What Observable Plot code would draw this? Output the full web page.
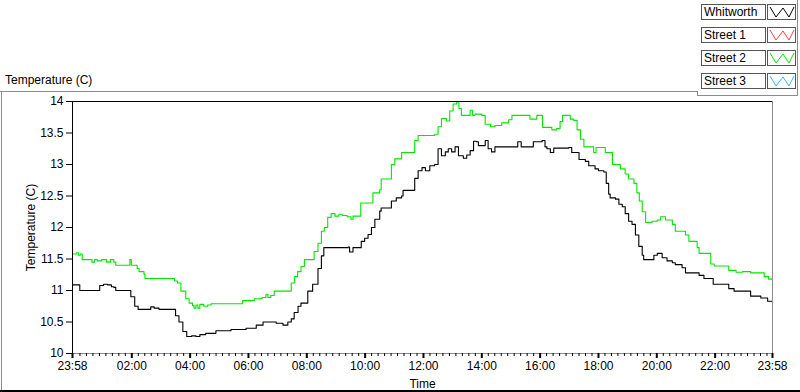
<!DOCTYPE html>
<html>
<head>
<meta charset="utf-8">
<script src="https://cdn.jsdelivr.net/npm/d3@7"></script>
<script src="https://cdn.jsdelivr.net/npm/@observablehq/plot@0.6"></script>
<style>
  html, body { margin: 0; padding: 0; background: #fff; }
  #wrap { position: relative; width: 800px; height: 392px; overflow: hidden; font-family: "Liberation Sans", Arial, sans-serif; font-size: 12px; color: #000; }
  #chart { position: absolute; left: 0; top: 0; }
  .hl { position: absolute; height: 1px; background: #8c8c8c; }
  .vl { position: absolute; width: 1px; background: #8c8c8c; }
  #title { position: absolute; left: 5px; top: 73px; font-size: 12px; }
  .lgname { position: absolute; left: 701px; width: 61px; height: 14px; border: 1px solid #555; background: #fff; font-size: 12px; line-height: 14px; padding-left: 2px; box-sizing: content-box; }
  .lgicon { position: absolute; left: 767px; width: 27px; height: 14px; border: 1px solid #555; background: #fff; }
</style>
</head>
<body>
<div id="wrap">
  <div id="chart"></div>
  <div id="title">Temperature (C)</div>
  <div id="legend"></div>
  <div class="hl" style="left:0;top:91px;width:697px;"></div>
  <div class="vl" style="left:697px;top:91px;height:4px;"></div>
  <div class="hl" style="left:697px;top:95px;width:101px;"></div>
  <div class="vl" style="left:797px;top:0;height:96px;"></div>
  <div class="vl" style="left:1px;top:91px;height:301px;"></div>
  <div style="position:absolute;left:0;top:390px;width:800px;height:2px;background:#000;"></div>
</div>
<script>
// ---- data ----
const seriesNames = ["Whitworth", "Street 1", "Street 2", "Street 3"];
const seriesColors = ["#000000", "#ff4040", "#00e600", "#38b6ff"];

// x tick positions: minutes since 23:58 (start), and their labels
const xTickMinutes = [0, 122, 242, 362, 482, 602, 722, 842, 962, 1082, 1202, 1322, 1440];
const xTickLabels = ["23:58", "02:00", "04:00", "06:00", "08:00", "10:00", "12:00", "14:00", "16:00", "18:00", "20:00", "22:00", "23:58"];
const yTicks = [10, 10.5, 11, 11.5, 12, 12.5, 13, 13.5, 14];
const yTickLabels = ["10", "10.5", "11", "11.5", "12", "12.5", "13", "13.5", "14"];

// [minutes since 23:58, temperature °C]
const whitworth = [[0,11.09],[10,11.09],[15,11.0],[51,11.0],[56,11.08],[64,11.10],[72,11.09],[80,11.06],[85,11.05],[89,11.0],[113,11.0],[120,10.9],[128,10.75],[135,10.70],[154,10.70],[161,10.74],[168,10.72],[175,10.72],[178,10.70],[206,10.70],[212,10.6],[219,10.5],[227,10.35],[235,10.27],[245,10.28],[254,10.27],[262,10.30],[274,10.32],[295,10.36],[326,10.38],[357,10.40],[378,10.45],[392,10.50],[408,10.50],[419,10.48],[433,10.45],[443,10.50],[450,10.55],[456,10.65],[464,10.75],[470,10.80],[484,10.99],[494,11.10],[505,11.35],[512,11.55],[517,11.68],[567,11.69],[570,11.61],[577,11.68],[591,11.68],[594,11.78],[601,11.83],[608,11.89],[615,12.0],[622,12.13],[632,12.26],[635,12.31],[649,12.31],[656,12.42],[666,12.47],[677,12.5],[680,12.59],[697,12.59],[704,12.78],[711,12.9],[719,12.95],[726,12.9],[735,12.98],[745,13.0],[752,13.25],[759,13.14],[767,13.2],[773,13.25],[780,13.2],[787,13.28],[794,13.14],[804,13.1],[811,13.15],[818,13.22],[825,13.37],[831,13.36],[835,13.3],[845,13.3],[849,13.38],[855,13.25],[862,13.2],[869,13.28],[910,13.28],[916,13.36],[923,13.28],[943,13.28],[948,13.36],[966,13.38],[972,13.28],[976,13.25],[983,13.19],[990,13.26],[1021,13.27],[1027,13.19],[1038,13.19],[1042,13.08],[1055,13.05],[1062,12.98],[1075,12.93],[1082,12.9],[1093,12.88],[1098,12.7],[1103,12.53],[1106,12.47],[1117,12.45],[1124,12.37],[1131,12.33],[1137,12.22],[1144,12.1],[1151,12.05],[1158,11.88],[1165,11.7],[1172,11.56],[1175,11.49],[1187,11.49],[1196,11.56],[1203,11.59],[1213,11.52],[1223,11.47],[1234,11.44],[1240,11.41],[1254,11.36],[1261,11.28],[1282,11.28],[1289,11.24],[1299,11.19],[1313,11.19],[1318,11.10],[1344,11.10],[1350,11.03],[1361,10.99],[1392,10.99],[1395,10.91],[1416,10.88],[1430,10.83],[1440,10.80]];

const street2 = [[0,11.58],[8,11.60],[12,11.56],[16,11.58],[20,11.49],[35,11.49],[40,11.45],[45,11.49],[51,11.47],[60,11.49],[70,11.45],[78,11.49],[85,11.45],[89,11.40],[113,11.40],[118,11.49],[121,11.40],[133,11.35],[137,11.30],[147,11.26],[149,11.19],[202,11.19],[210,11.15],[216,11.12],[223,10.99],[233,10.87],[240,10.80],[247,10.76],[250,10.72],[254,10.77],[258,10.72],[262,10.78],[270,10.75],[278,10.77],[285,10.79],[347,10.79],[350,10.84],[374,10.87],[390,10.89],[398,10.94],[402,10.89],[408,10.92],[415,10.99],[439,10.99],[450,11.12],[457,11.22],[463,11.30],[470,11.38],[477,11.49],[491,11.49],[497,11.62],[505,11.75],[512,11.94],[518,12.0],[525,12.16],[532,12.22],[540,12.18],[548,12.21],[555,12.19],[565,12.17],[573,12.13],[577,12.18],[591,12.18],[593,12.39],[611,12.39],[618,12.55],[632,12.6],[635,12.77],[649,12.77],[656,13.0],[663,13.09],[673,13.09],[677,13.19],[697,13.19],[704,13.38],[711,13.46],[745,13.48],[752,13.6],[759,13.73],[769,13.69],[776,13.85],[783,13.96],[790,13.98],[795,13.89],[800,13.78],[814,13.78],[818,13.86],[823,13.78],[828,13.80],[842,13.78],[849,13.64],[860,13.60],[869,13.62],[883,13.66],[897,13.71],[904,13.78],[935,13.78],[941,13.72],[952,13.72],[955,13.78],[962,13.78],[967,13.59],[986,13.55],[996,13.57],[1003,13.68],[1008,13.78],[1021,13.78],[1024,13.72],[1031,13.70],[1038,13.55],[1045,13.40],[1052,13.28],[1069,13.28],[1072,13.19],[1077,13.27],[1093,13.27],[1096,13.19],[1106,13.19],[1111,13.0],[1127,12.93],[1137,12.85],[1144,12.77],[1155,12.70],[1161,12.55],[1166,12.42],[1172,12.25],[1179,12.08],[1192,12.10],[1203,12.12],[1210,12.17],[1220,12.12],[1234,12.05],[1240,11.94],[1261,11.88],[1268,11.78],[1285,11.68],[1289,11.59],[1306,11.59],[1313,11.42],[1320,11.39],[1344,11.39],[1350,11.32],[1365,11.29],[1378,11.30],[1395,11.28],[1412,11.28],[1423,11.22],[1432,11.18],[1440,11.12]];

// minor ticks every 2h/9 starting at 00:00 (2 minutes after start)
const minorTicks = d3.range(0, 108).filter(k => k % 9 !== 0).map(k => 2 + k * 120 / 9);

const xLabel = new Map(xTickMinutes.map((t, i) => [t, xTickLabels[i]]));
const yLabel = new Map(yTicks.map((t, i) => [t, yTickLabels[i]]));

const chart = Plot.plot({
  width: 800,
  height: 392,
  marginLeft: 72,
  marginRight: 28,
  marginTop: 101,
  marginBottom: 39,
  style: { fontFamily: '"Liberation Sans", Arial, sans-serif', fontSize: "12px", color: "#000", background: "transparent", overflow: "visible" },
  x: { domain: [0, 1440] },
  y: { domain: [10, 14] },
  marks: [
    Plot.line(street2, { x: d => d[0], y: d => d[1], stroke: seriesColors[2], strokeWidth: 1.1, curve: "step-after" }),
    Plot.line(whitworth, { x: d => d[0], y: d => d[1], stroke: seriesColors[0], strokeWidth: 1.1, curve: "step-after" }),
    Plot.ruleY([10], { stroke: "#8c8c8c" }),
    Plot.ruleX([1440], { stroke: "#8c8c8c" }),
    Plot.ruleY([14], { stroke: "#000" }),
    Plot.ruleX([0], { stroke: "#000" }),
    Plot.axisY(yTicks, { anchor: "left", tickSize: 6, tickPadding: 3, tickFormat: d => yLabel.get(d), label: "Temperature (C)", labelArrow: "none", labelAnchor: "center", labelOffset: 46, fontSize: 12 }),
    Plot.axisX(minorTicks, { anchor: "bottom", tickSize: 3, tickFormat: () => "", label: null }),
    Plot.axisX(xTickMinutes, { anchor: "bottom", tickSize: 5, strokeWidth: 2, tickPadding: 3, tickFormat: d => xLabel.get(d), label: "Time", labelArrow: "none", labelAnchor: "center", labelOffset: 34, fontSize: 12 })
  ]
});
document.getElementById("chart").appendChild(chart);

// legend
const legend = document.getElementById("legend");
const tops = [4, 27, 50, 73];
seriesNames.forEach((name, i) => {
  const n = document.createElement("div");
  n.className = "lgname";
  n.style.top = tops[i] + "px";
  n.textContent = name;
  legend.appendChild(n);
  const ic = document.createElement("div");
  ic.className = "lgicon";
  ic.style.top = tops[i] + "px";
  ic.innerHTML = `<svg width="27" height="14"><polyline points="2,2 8,12 15,3 21,12 26,2" fill="none" stroke="${seriesColors[i]}" stroke-width="1"/></svg>`;
  legend.appendChild(ic);
});
</script>
</body>
</html>
